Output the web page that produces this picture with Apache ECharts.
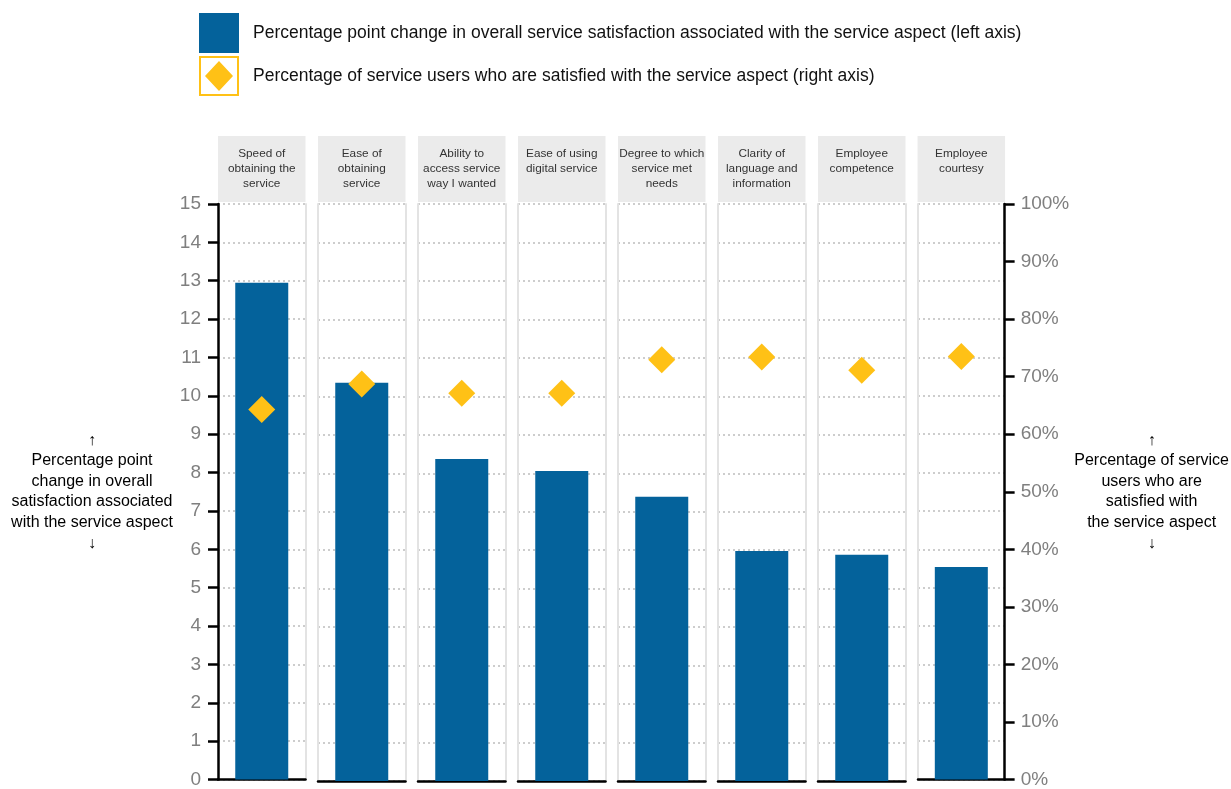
<!DOCTYPE html>
<html>
<head>
<meta charset="utf-8">
<script src="https://cdn.jsdelivr.net/npm/echarts@6/dist/echarts.min.js"></script>
<style>
  html, body { margin: 0; padding: 0; background: #fff; }
  #chart { width: 1231px; height: 789px; }
</style>
</head>
<body>
<div id="chart"></div>
<script>
// Service aspects, one panel each (header text with its line breaks)
const categories = [
  'Speed of\nobtaining the\nservice',
  'Ease of\nobtaining\nservice',
  'Ability to\naccess service\nway I wanted',
  'Ease of using\ndigital service',
  'Degree to which\nservice met\nneeds',
  'Clarity of\nlanguage and\ninformation',
  'Employee\ncompetence',
  'Employee\ncourtesy'
];
// Percentage point change in overall satisfaction (left axis)
const satisfactionChange = [12.95, 10.35, 8.37, 8.06, 7.39, 5.98, 5.88, 5.54];
// Share of users satisfied with the aspect, % (right axis)
const satisfiedShare = [64.3, 68.8, 67.2, 67.2, 73.0, 73.5, 71.2, 73.5];

// Axis scales
const leftMin = 0, leftMax = 15, leftStep = 1;
const rightMin = 0, rightMax = 100, rightStep = 10;

const barSeriesName = 'Percentage point change in overall service satisfaction associated with the service aspect (left axis)';
const dotSeriesName = 'Percentage of service users who are satisfied with the service aspect (right axis)';
const leftTitle = '\u2191\nPercentage point\nchange in overall\nsatisfaction associated\nwith the service aspect\n\u2193';
const rightTitle = '\u2191\nPercentage of service\nusers who are\nsatisfied with\nthe service aspect\n\u2193';

const FONT = "'Liberation Sans Narrow', 'Arial Narrow', 'Liberation Sans', Arial, sans-serif";
const BLUE = '#04629b';
const YELLOW = '#ffc116';
const PANEL_LEFT = 218, PANEL_STEP = 100, PANEL_WIDTH = 87.5;
const PLOT_TOP = 204, PLOT_HEIGHT = 577;
const HEADER_TOP = 136, HEADER_HEIGHT = 66;
const last = categories.length - 1;

const grid = [], xAxis = [], yAxis = [], series = [];

categories.forEach((cat, i) => {
  grid.push({ left: PANEL_LEFT + i * PANEL_STEP, top: PLOT_TOP, width: PANEL_WIDTH, height: PLOT_HEIGHT });

  // grey header band above each panel
  xAxis.push({
    gridIndex: i, type: 'category', data: [cat], position: 'top',
    axisLine: { show: false }, axisTick: { show: false }, splitLine: { show: false },
    axisLabel: {
      interval: 0, margin: PLOT_TOP - HEADER_TOP, verticalAlign: 'top',
      color: '#333', fontFamily: FONT, fontSize: 11.8, lineHeight: 15,
      backgroundColor: '#ebebeb', width: PANEL_WIDTH, height: HEADER_HEIGHT - 10, padding: [10, 0, 0, 0]
    }
  });
  // baseline at the bottom
  xAxis.push({
    gridIndex: i, type: 'category', data: [cat], position: 'bottom',
    axisLine: { show: true, onZero: false, lineStyle: { color: '#000', width: 2.5 } },
    axisTick: { show: false }, axisLabel: { show: false }, splitLine: { show: false }
  });

  const isFirst = i === 0, isLast = i === last;
  yAxis.push({
    gridIndex: i, type: 'value', position: 'left',
    min: leftMin, max: leftMax, interval: leftStep,
    splitLine: { show: true, lineStyle: { color: '#cdcdcd', width: 2, type: [2, 3] } },
    axisLine: { show: true, lineStyle: { color: isFirst ? '#000' : '#e3e3e3', width: isFirst ? 2.5 : 2 } },
    axisTick: { show: isFirst, length: 10, lineStyle: { color: '#000', width: 2.5 } },
    axisLabel: { show: isFirst, margin: 17, color: '#7f7f7f', fontSize: 19, fontFamily: FONT },
    name: isFirst ? leftTitle : '', nameLocation: 'middle', nameGap: 126, nameRotate: 0,
    nameTextStyle: { align: 'center', verticalAlign: 'middle', fontSize: 16, lineHeight: 20.6, color: '#000', fontFamily: FONT }
  });
  yAxis.push({
    gridIndex: i, type: 'value', position: 'right',
    min: rightMin, max: rightMax, interval: rightStep,
    splitLine: { show: false },
    axisLine: { show: true, lineStyle: { color: isLast ? '#000' : '#e3e3e3', width: isLast ? 2.5 : 2 } },
    axisTick: { show: isLast, length: 10, lineStyle: { color: '#000', width: 2.5 } },
    axisLabel: { show: isLast, margin: 16, color: '#7f7f7f', fontSize: 19, fontFamily: FONT, formatter: '{value}%' },
    name: isLast ? rightTitle : '', nameLocation: 'middle', nameGap: 147, nameRotate: 0,
    nameTextStyle: { align: 'center', verticalAlign: 'middle', fontSize: 16, lineHeight: 20.6, color: '#000', fontFamily: FONT }
  });

  series.push({
    type: 'bar', name: barSeriesName, xAxisIndex: 2 * i, yAxisIndex: 2 * i,
    data: [satisfactionChange[i]], barWidth: 53,
    itemStyle: { color: BLUE }, z: 2
  });
  series.push({
    type: 'scatter', name: dotSeriesName, xAxisIndex: 2 * i, yAxisIndex: 2 * i + 1,
    data: [satisfiedShare[i]], symbol: 'diamond', symbolSize: 27,
    itemStyle: { color: YELLOW, opacity: 1 }, z: 3
  });
});

const chart = echarts.init(document.getElementById('chart'), null, { renderer: 'canvas' });
chart.setOption({
  animation: false,
  backgroundColor: '#fff',
  textStyle: { fontFamily: FONT },
  legend: {
    orient: 'vertical', left: 199, top: 13, padding: 0,
    itemWidth: 40, itemHeight: 40, itemGap: 3, selectedMode: false,
    textStyle: { fontSize: 17.5, color: '#111', fontFamily: FONT, padding: [0, 0, 0, 9] },
    data: [
      { name: barSeriesName, icon: 'rect' },
      { name: dotSeriesName, icon: 'path://M0,0H40V40H0Z M2,2V38H38V2Z M20,5L34,20L20,35L6,20Z' }
    ]
  },
  grid, xAxis, yAxis, series
});
</script>
</body>
</html>
